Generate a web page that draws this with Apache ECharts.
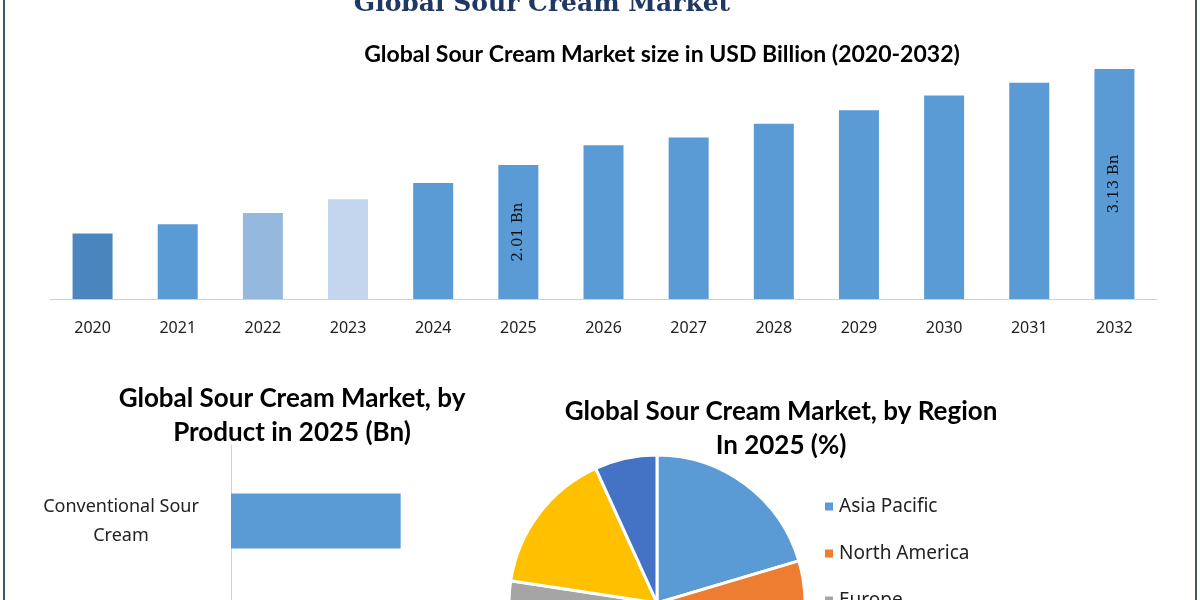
<!DOCTYPE html>
<html><head><meta charset="utf-8">
<script src="https://cdn.jsdelivr.net/npm/echarts@6/dist/echarts.min.js"></script>
<style>html,body{margin:0;padding:0;background:#fff}#c{width:1200px;height:600px}</style>
</head><body><div id="c"></div>
<script>
const years = ['2020','2021','2022','2023','2024','2025','2026','2027','2028','2029','2030','2031','2032'];
const marketSize = [1.21,1.32,1.45,1.61,1.80,2.01,2.24,2.33,2.49,2.65,2.82,2.97,3.13];
const barColors = ['#4a85bd','#5b9bd5','#95b8df','#c3d6ee','#5b9bd5','#5b9bd5','#5b9bd5','#5b9bd5','#5b9bd5','#5b9bd5','#5b9bd5','#5b9bd5','#5b9bd5'];
const labelled = {'2025':'2.01 Bn','2032':'3.13 Bn'};
const products = ['Conventional Sour\nCream','Organic Sour\nCream'];
const productValues = [1.45,0.56];
const regions = ['Asia Pacific','North America','Europe','Latin America','Middle East and Africa'];
const regionShares = [20.4,29.5,27.5,15.8,6.8];
const regionColors = ['#5b9bd5','#ed7d31','#a5a5a5','#ffc000','#4472c4'];

const chart = echarts.init(document.getElementById('c'));
chart.setOption({
  animation:false,
  title:[
    {text:'Global Sour Cream Market',left:537,textAlign:'center',top:-13,textStyle:{fontFamily:'DejaVu Serif',fontWeight:'bold',fontSize:25,color:'#1f3864'}},
    {text:'Global Sour Cream Market size in USD Billion (2020-2032)',left:657,textAlign:'center',top:38,textStyle:{fontFamily:'Lato',fontWeight:'bold',fontSize:23,color:'#000'}},
    {text:'Global Sour Cream Market, by\nProduct in 2025 (Bn)',left:287,textAlign:'center',top:377,textStyle:{fontFamily:'Lato',fontWeight:'bold',fontSize:26,lineHeight:34,color:'#000'}},
    {text:'Global Sour Cream Market, by Region\nIn 2025 (%)',left:776,textAlign:'center',top:390,textStyle:{fontFamily:'Lato',fontWeight:'bold',fontSize:26,lineHeight:34,color:'#000'}}
  ],
  graphic:[{type:'rect',shape:{x:4,y:-5,width:1192,height:612},style:{fill:'none',stroke:'#3d5a66',lineWidth:2}}],
  grid:[
    {left:50,right:43,top:69,bottom:301,outerBoundsMode:'none'},
    {left:231,width:234,top:445,height:304,outerBoundsMode:'none'}
  ],
  xAxis:[
    {gridIndex:0,type:'category',data:years,axisTick:{show:false},axisLine:{lineStyle:{color:'#d0d0d0'}},
     axisLabel:{margin:21,fontSize:16,color:'#222',fontFamily:'Noto Sans'}},
    {gridIndex:1,type:'value',min:0,max:2,show:false}
  ],
  yAxis:[
    {gridIndex:0,type:'value',min:0.447,max:3.13,show:false},
    {gridIndex:1,type:'category',data:products,inverse:true,axisTick:{show:false},
     axisLine:{lineStyle:{color:'#d0d0d0'}},
     axisLabel:{margin:110,fontSize:18,lineHeight:29,color:'#222',fontFamily:'Noto Sans',align:'center'}}
  ],
  legend:{orient:'vertical',left:818,top:492,height:400,itemWidth:10,itemHeight:10,itemGap:28,icon:'rect',
    textStyle:{fontSize:19,color:'#222',fontFamily:'Noto Sans'},data:regions},
  series:[
    {type:'bar',xAxisIndex:0,yAxisIndex:0,barWidth:40,
     data:marketSize.map((v,i)=>({value:v,itemStyle:{color:barColors[i]},
       label:{show:!!labelled[years[i]],formatter:labelled[years[i]]||'',position:'inside',rotate:90,
         fontFamily:'DejaVu Serif',fontSize:15,color:'#111'}}))},
    {type:'bar',xAxisIndex:1,yAxisIndex:1,barWidth:55,itemStyle:{color:'#5b9bd5'},data:productValues},
    {type:'pie',center:[657,603],radius:148,startAngle:90,clockwise:true,label:{show:false},
     itemStyle:{borderColor:'#fff',borderWidth:3},
     data:regions.map((r,i)=>({name:r,value:regionShares[i],itemStyle:{color:regionColors[i]}}))}
  ]
});
</script></body></html>
